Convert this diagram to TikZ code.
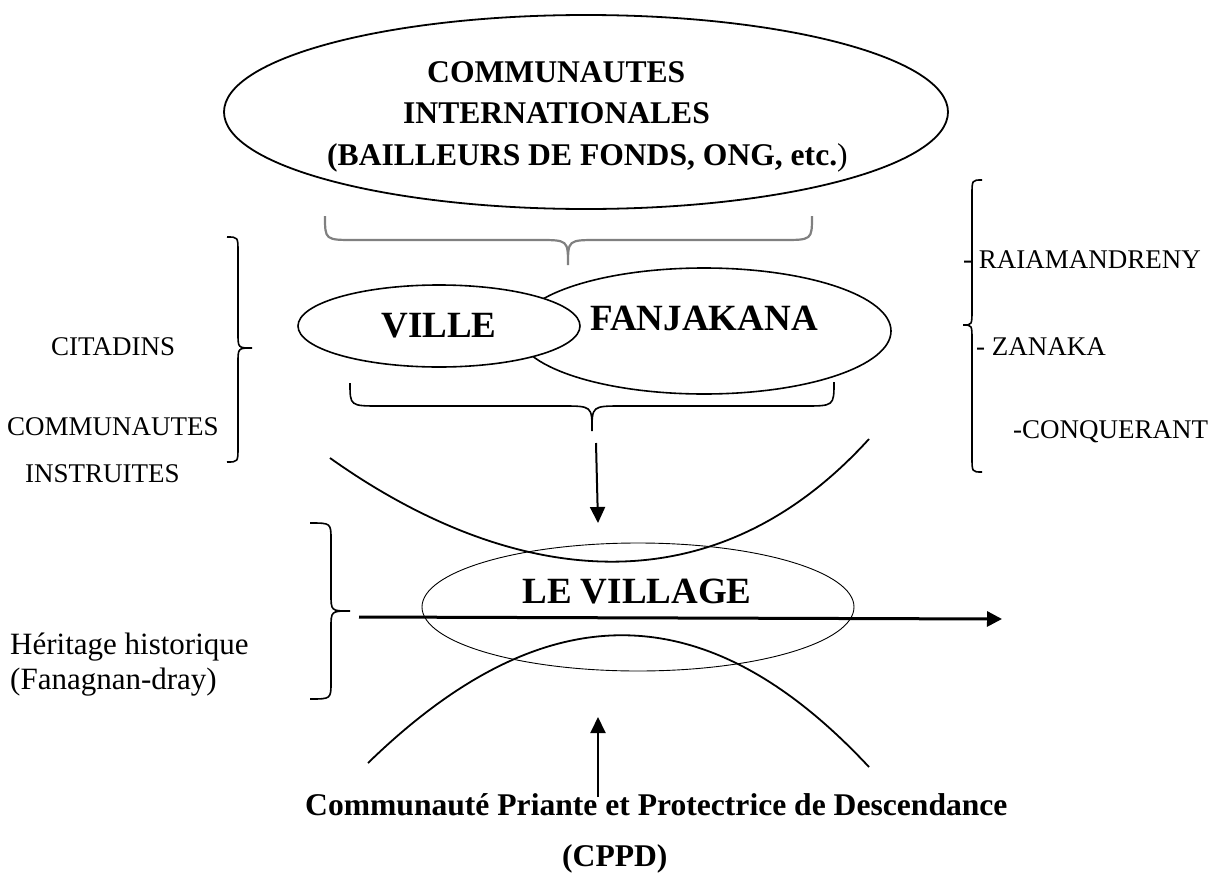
\documentclass[tikz,border=0pt]{standalone}
\usepackage{fontspec}
\setmainfont{Liberation Serif}
\usetikzlibrary{arrows.meta,shapes.geometric}
\begin{document}
\begin{tikzpicture}[x=1pt,y=-1pt,
  ln/.style={line width=1.8pt},
  brc/.style={line width=1.6pt},
  ellnode/.style={shape=ellipse, draw, inner sep=0pt},
  tbig/.style={font=\fontsize{31.6}{38}\selectfont\bfseries, inner sep=0pt},
  tmid/.style={font=\fontsize{37}{44}\selectfont\bfseries, inner sep=0pt},
  tside/.style={font=\fontsize{27}{32}\selectfont, inner sep=0pt},
  therit/.style={font=\fontsize{31}{36}\selectfont, inner sep=0pt},
  arr/.style={line width=2pt, -{Triangle[length=16pt,width=15pt]}},
  harr/.style={line width=3pt, -{Triangle[length=15pt,width=15pt]}}]
\useasboundingbox[fill=white] (0,0) rectangle (1219,873);

% top ellipse
\node[ellnode, line width=1.8pt, minimum width=724pt, minimum height=194pt] (intl) at (586,112) {};
\node[tbig, anchor=base west] (t1) at (427,82) {COMMUNAUTES};
\node[tbig, anchor=base west] (t2) at (403,123) {INTERNATIONALES};
\node[tbig, anchor=base west] (t3) at (327,165) {(BAILLEURS DE FONDS, ONG, etc.{\mdseries )}};

% gray brace
\draw[line width=2.2pt, color=black!50] (325,216) .. controls (325,240) .. (355,240) -- (538,240) .. controls (568,240) .. (568,265) .. controls (568,240) .. (598,240) -- (782,240) .. controls (812,240) .. (812,216);

% fanjakana / ville
\node[ellnode, line width=1.6pt, minimum width=374pt, minimum height=126pt] (fanj) at (704,331) {};
\node[ellnode, fill=white, line width=1.6pt, minimum width=282pt, minimum height=82pt, tmid] (ville) at (439,326) {VILLE};
\node[tmid, anchor=base] (fjtxt) at (704,330) {FANJAKANA};

% middle brace
\draw[brc] (350,383) .. controls (350,406) .. (380,406) -- (562,406) .. controls (592,406) .. (592,431) .. controls (592,406) .. (622,406) -- (804,406) .. controls (834,406) .. (834,382);

% down arrow
\coordinate (d1) at (596,443);
\coordinate (d2) at (598,523);
\draw[arr] (d1) -- (d2);

% upper arc
\draw[ln] (330,458) .. controls (493,574) and (701,624) .. (869,439);

% village
\node[ellnode, line width=0.9pt, minimum width=432pt, minimum height=128pt] (village) at (638,607) {};
\node[tmid, anchor=base] (vtxt) at (637,603) {LE VILLAGE};

% horizontal arrow
\coordinate (h1) at (359,617);
\coordinate (h2) at (1002,619);
\draw[harr] (h1) -- (h2);

% lower arc
\draw[ln] (368,763) .. controls (542,594) and (704,590) .. (869,767);

% up arrow
\coordinate (u1) at (598,797);
\coordinate (u2) at (598,717);
\draw[arr] (u1) -- (u2);

% bottom text
\node[tbig, anchor=base west] (cppd1) at (305,815) {Communauté Priante et Protectrice de Descendance};
\node[tbig, anchor=base west] (cppd2) at (562,866) {(CPPD)};

% left brace
\draw[brc] (227,237) .. controls (238,237) .. (238,252) -- (238,333) .. controls (238,348) .. (252,348) .. controls (238,348) .. (238,363) -- (238,447) .. controls (238,462) .. (227,462);
\node[tside, anchor=base west] (cit) at (51,355) {CITADINS};
\node[tside, anchor=base west] (com) at (7,435) {COMMUNAUTES};
\node[tside, anchor=base west] (ins) at (25,482) {INSTRUITES};

% right brace
\draw[brc] (982,180) .. controls (972,180) .. (972,195) -- (972,310) .. controls (972,325) .. (963,325) .. controls (972,325) .. (972,340) -- (972,457) .. controls (972,472) .. (982,472);
\node[tside, anchor=base west] (rai) at (963,268) {- RAIAMANDRENY};
\node[tside, anchor=base west] (zan) at (976,355) {- ZANAKA};
\node[tside, anchor=base west] (con) at (1013,438) {-CONQUERANT};

% heritage brace
\draw[brc] (310,523) .. controls (331,523) .. (331,540) -- (331,594) .. controls (331,611) .. (350,611) .. controls (331,611) .. (331,628) -- (331,682) .. controls (331,699) .. (310,699);
\node[therit, anchor=base west] (her1) at (10,654) {Héritage historique};
\node[therit, anchor=base west] (her2) at (10,689) {(Fanagnan-dray)};
\end{tikzpicture}
\end{document}
